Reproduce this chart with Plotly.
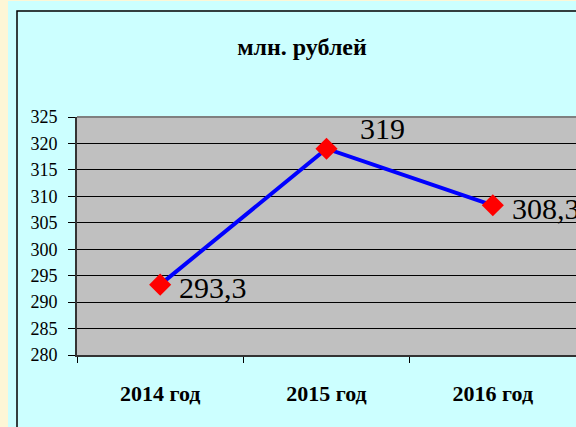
import plotly.graph_objects as go

categories = ["2014 год", "2015 год", "2016 год"]
values = [293.3, 319, 308.3]
label_texts = ["293,3", "319", "308,3"]
y_ticks = [280, 285, 290, 295, 300, 305, 310, 315, 320, 325]

FONT = "'Liberation Serif', 'Times New Roman', 'DejaVu Serif', serif"

W, H = 576, 427
L, R, T, B = 77, 0, 117, 72
pw = W - L - R
ph = H - T - B

def px2paper_x(px):
    return (px - L) / pw

def px2paper_y(py):
    return (H - B - py) / ph

fig = go.Figure()
fig.add_trace(go.Scatter(
    x=categories, y=values, mode="lines+markers",
    line=dict(color="#0000FF", width=4),
    marker=dict(symbol="diamond", size=17, color="#FF0000"),
    cliponaxis=False, showlegend=False, hoverinfo="skip",
))

# data labels
offsets = [(17, "middle", -3), (31, "bottom", 2), (17, "middle", -3)]
for i, (c, v, t) in enumerate(zip(categories, values, label_texts)):
    dx, ya, dy = offsets[i]
    fig.add_annotation(x=c, y=v, text=t, showarrow=False, xanchor="left",
                       yanchor=ya, xshift=dx, yshift=dy,
                       font=dict(family=FONT, size=30, color="black"))

shapes = [
    # yellow strip left
    dict(type="rect", xref="paper", yref="paper", layer="below",
         x0=px2paper_x(-5), x1=px2paper_x(8), y0=px2paper_y(H + 5), y1=px2paper_y(-5),
         fillcolor="#FDF6D6", line=dict(width=0)),
    # yellow strip top
    dict(type="rect", xref="paper", yref="paper", layer="below",
         x0=px2paper_x(-5), x1=px2paper_x(W + 5), y0=px2paper_y(1), y1=px2paper_y(-5),
         fillcolor="#FDF6D6", line=dict(width=0)),
    # black frame
    dict(type="rect", xref="paper", yref="paper", layer="below",
         x0=px2paper_x(17), x1=px2paper_x(W + 10), y0=px2paper_y(H + 10), y1=px2paper_y(11),
         fillcolor="rgba(0,0,0,0)", line=dict(color="black", width=1.5)),
    # plot area border (top)
    dict(type="line", xref="paper", yref="paper", layer="above",
         x0=0, x1=1, y0=1, y1=1, line=dict(color="#808080", width=2)),
]

fig.update_layout(
    width=W, height=H,
    margin=dict(l=L, r=R, t=T, b=B, pad=0),
    paper_bgcolor="#CCFFFF",
    plot_bgcolor="#C0C0C0",
    font=dict(family=FONT, color="black"),
    shapes=shapes,
    title=dict(text="<b>млн. рублей</b>", xref="container", yref="container",
               x=302 / W, y=1 - 47 / H, xanchor="center", yanchor="middle",
               font=dict(family=FONT, size=24, color="black")),
    xaxis=dict(type="category", range=[-0.5, 2.5], showgrid=False,
               showline=True, linecolor="#333333", linewidth=2,
               ticks="outside", tickson="boundaries", ticklen=6, tickcolor="black",
               tickfont=dict(family=FONT, size=22, color="black"),
               tickvals=categories, ticktext=["<b>" + c + "</b>" for c in categories],
               ticklabelstandoff=18, zeroline=False, fixedrange=True),
    yaxis=dict(range=[280, 325], tickvals=y_ticks, showgrid=True,
               gridcolor="black", gridwidth=1,
               showline=True, linecolor="#333333", linewidth=2,
               ticks="outside", ticklen=7, tickcolor="black",
               tickfont=dict(family=FONT, size=18, color="black"),
               ticklabelstandoff=7, zeroline=False, fixedrange=True),
)

fig.write_html("out.html", config={"displayModeBar": False, "staticPlot": True},
               post_script="document.body.style.margin='0';document.body.style.padding='0';document.body.style.overflow='hidden';")
